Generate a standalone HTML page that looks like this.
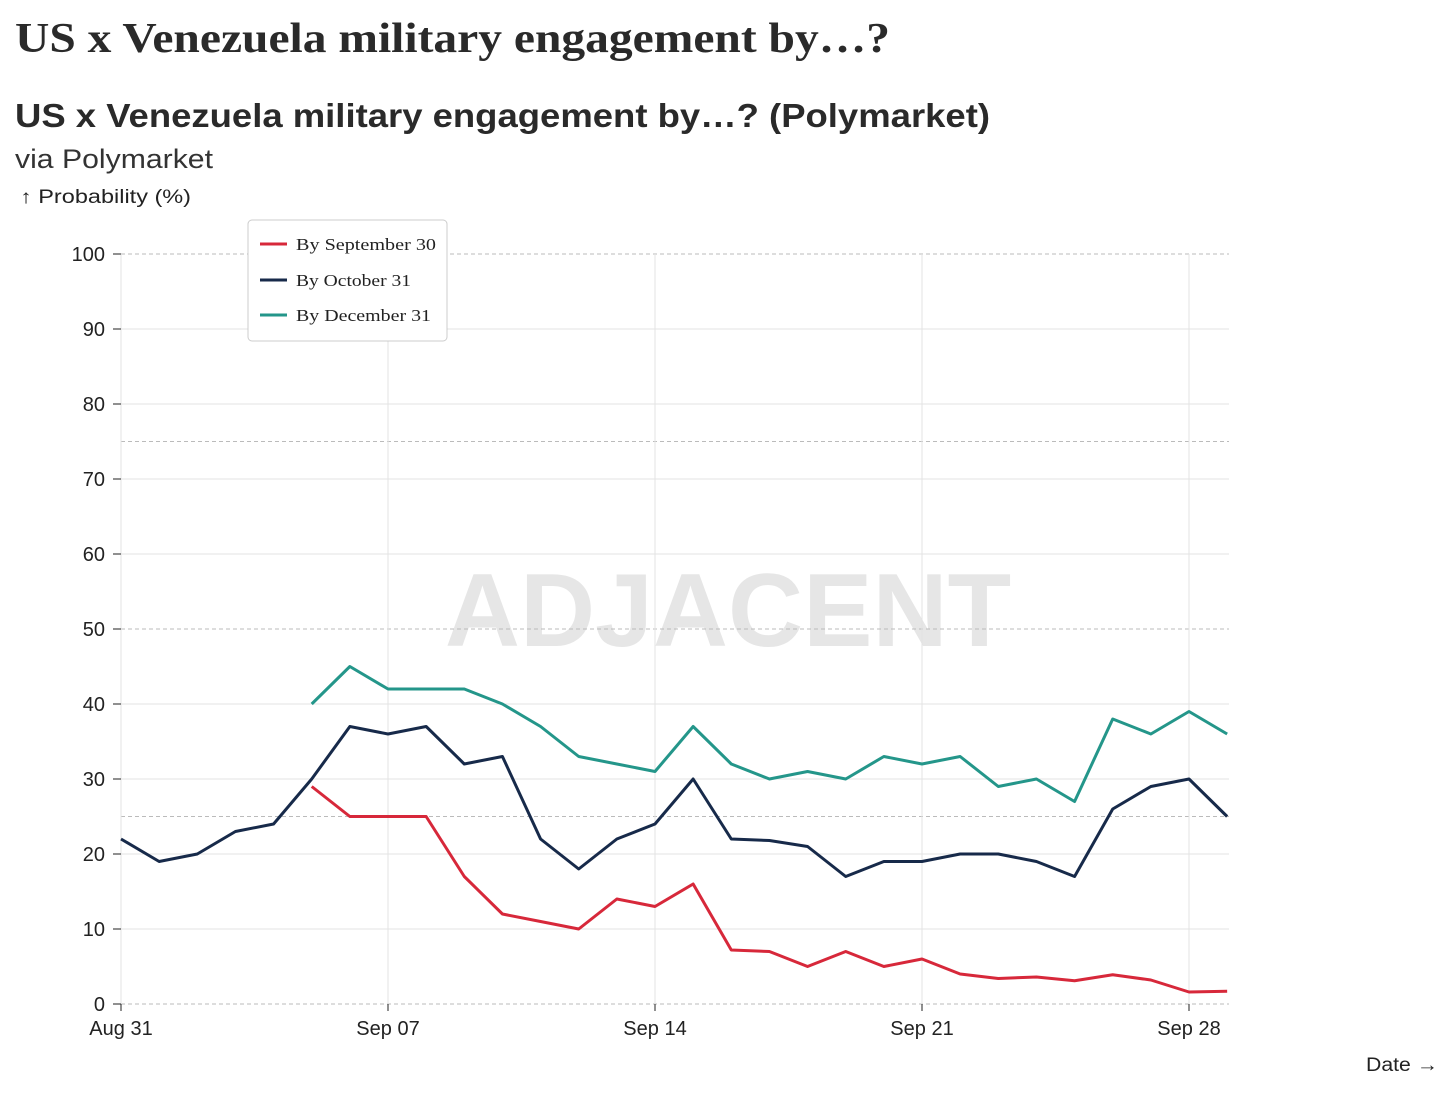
<!DOCTYPE html>
<html><head><meta charset="utf-8"><style>
body{margin:0;background:#fff;width:1456px;height:1095px;overflow:hidden;font-family:"Liberation Sans",sans-serif;color:#222}
</style></head><body>
<svg width="1456" height="1095" xmlns="http://www.w3.org/2000/svg">
<text x="15" y="52" font-family="Liberation Serif,serif" font-weight="bold" font-size="42" fill="#2a2a2a" textLength="875" lengthAdjust="spacingAndGlyphs">US x Venezuela military engagement by…?</text>
<text x="15" y="127" font-weight="bold" font-size="33" fill="#2a2a2a" textLength="975" lengthAdjust="spacingAndGlyphs">US x Venezuela military engagement by…? (Polymarket)</text>
<text x="15" y="168" font-size="27" fill="#333" textLength="198" lengthAdjust="spacingAndGlyphs">via Polymarket</text>
<text x="20" y="203" font-size="19" fill="#222" textLength="171" lengthAdjust="spacingAndGlyphs">↑ Probability (%)</text>
<text x="1366" y="1071" font-size="19" fill="#222" textLength="72" lengthAdjust="spacingAndGlyphs">Date →</text>
<text x="728" y="646" text-anchor="middle" font-weight="bold" font-size="104" fill="#e6e6e6">ADJACENT</text>
<g id="grid"></g><g id="axes"></g><g id="lines"></g>
<g>
<rect x="248" y="220" width="199" height="121" rx="4" fill="#fff" stroke="#ccc"/>
<line x1="260" y1="244" x2="287" y2="244" stroke="#d7283a" stroke-width="3"/>
<text x="296" y="250" font-family="Liberation Serif,serif" font-size="17" fill="#222" textLength="140" lengthAdjust="spacingAndGlyphs">By September 30</text>
<line x1="260" y1="280" x2="287" y2="280" stroke="#172a4a" stroke-width="3"/>
<text x="296" y="286" font-family="Liberation Serif,serif" font-size="17" fill="#222" textLength="115" lengthAdjust="spacingAndGlyphs">By October 31</text>
<line x1="260" y1="315" x2="287" y2="315" stroke="#24968a" stroke-width="3"/>
<text x="296" y="321" font-family="Liberation Serif,serif" font-size="17" fill="#222" textLength="135" lengthAdjust="spacingAndGlyphs">By December 31</text>
</g>
</svg>
<script>
const days=[...Array(30).keys()];
const sep30=[null,null,null,null,null,29,25,25,25,17,12,11,10,14,13,16,7.2,7,5,7,5,6,4,3.4,3.6,3.1,3.9,3.2,1.6,1.7];
const oct31=[22,19,20,23,24,30,37,36,37,32,33,22,18,22,24,30,22,21.8,21,17,19,19,20,20,19,17,26,29,30,25];
const dec31=[null,null,null,null,null,40,45,42,42,42,40,37,33,32,31,37,32,30,31,30,33,32,33,29,30,27,38,36,39,36];
const yTicks=[0,10,20,30,40,50,60,70,80,90,100];
const xTickDays=[0,7,14,21,28];
const xTickLabels=["Aug 31","Sep 07","Sep 14","Sep 21","Sep 28"];
const NS="http://www.w3.org/2000/svg";
const x=d=>121+d*38.143, y=v=>1004-v*7.5;
function mk(t,a,p){const e=document.createElementNS(NS,t);for(const k in a)e.setAttribute(k,a[k]);p.appendChild(e);return e;}
const g=document.getElementById('grid'),ax=document.getElementById('axes'),L=document.getElementById('lines');
yTicks.forEach(v=>{const l=mk('line',{x1:121,x2:1229,y1:y(v),y2:y(v),stroke:(v%50===0)?'#bbb':'#e3e3e3','stroke-dasharray':(v%50===0)?'4,3':''},g);


const t=mk('text',{x:105,y:y(v)+7,'text-anchor':'end','font-size':20,fill:'#222'},ax);t.textContent=v;


mk('line',{x1:113,x2:121,y1:y(v),y2:y(v),stroke:'#222'},ax);});
[25,75].forEach(v=>{const l=mk('line',{x1:121,x2:1229,y1:y(v),y2:y(v),stroke:'#bbb','stroke-dasharray':'4,3'},g);

});
xTickDays.forEach((d,i)=>{const l=mk('line',{x1:x(d),x2:x(d),y1:254,y2:1004,stroke:'#e3e3e3'},g);


mk('line',{x1:x(d),x2:x(d),y1:1004,y2:1011,stroke:'#222'},ax);
const t=mk('text',{x:x(d),y:1035,'text-anchor':'middle','font-size':20,fill:'#222'},ax);t.textContent=xTickLabels[i];

});
mk('line',{x1:121,x2:121,y1:1004,y2:1011,stroke:'#222'},ax);
[[sep30,'#d7283a','line-sep30'],[oct31,'#172a4a','line-oct31'],[dec31,'#24968a','line-dec31']].forEach(([s,c,n])=>{
const pts=days.filter(d=>s[d]!=null).map(d=>x(d)+','+y(s[d])).join(' ');
const p=mk('polyline',{points:pts,fill:'none',stroke:c,'stroke-width':3,'stroke-linejoin':'round'},L);

});
</script>
</body></html>
